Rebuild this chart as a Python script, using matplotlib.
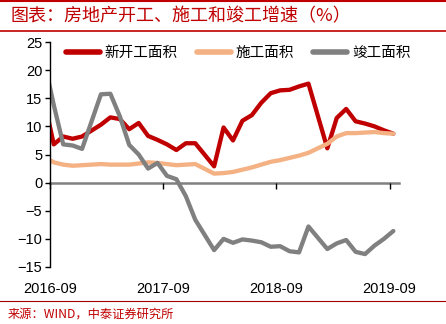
import matplotlib
matplotlib.use("Agg")
import matplotlib.pyplot as plt
from matplotlib.lines import Line2D

plt.rcParams['font.family'] = ['Liberation Sans', 'Noto Sans CJK SC', 'DejaVu Sans']

# ---- data (cumulative YoY %, January merged into February) ----
months = ['2016-08', '2016-09', '2016-10', '2016-11', '2016-12',
          '2017-02', '2017-03', '2017-04', '2017-05', '2017-06', '2017-07',
          '2017-08', '2017-09', '2017-10', '2017-11', '2017-12',
          '2018-02', '2018-03', '2018-04', '2018-05', '2018-06', '2018-07',
          '2018-08', '2018-09', '2018-10', '2018-11', '2018-12',
          '2019-02', '2019-03', '2019-04', '2019-05', '2019-06', '2019-07',
          '2019-08', '2019-09']
new_start = [14.5, 6.8, 8.2, 7.8, 8.2,
             10.3, 11.6, 11.3, 9.5, 10.6, 8.3, 7.6, 6.8, 5.8, 7.0, 7.0,
             2.9, 9.8, 7.5, 11.0, 12.0, 14.2, 15.9, 16.4, 16.5, 17.1, 17.6,
             6.1, 11.5, 13.1, 10.9, 10.5, 10.0, 9.3, 8.7]
under_constr = [4.6, 3.6, 3.2, 3.0, 3.1,
                3.3, 3.2, 3.2, 3.2, 3.4, 3.6, 3.5, 3.3, 3.1, 3.2, 3.3,
                1.6, 1.7, 1.9, 2.3, 2.7, 3.2, 3.7, 4.0, 4.4, 4.8, 5.3,
                6.9, 8.2, 8.8, 8.8, 8.9, 9.0, 8.8, 8.7]
completed = [21.5, 13.8, 6.8, 6.6, 6.0,
             15.7, 15.8, 11.8, 6.7, 5.0, 2.5, 3.5, 1.2, 0.6, -2.4, -6.6,
             -12.0, -10.0, -10.7, -10.1, -10.3, -10.6, -11.4, -11.3, -12.2, -12.4, -7.8,
             -11.8, -10.8, -10.2, -12.3, -12.7, -11.2, -10.0, -8.6]
series_names = ['新开工面积', '施工面积', '竣工面积']
tick_labels = ['2016-09', '2017-09', '2018-09', '2019-09']
title = '图表：房地产开工、施工和竣工增速（%）'
source = '来源：WIND，中泰证券研究所'

colors = ['#C00000', '#F4B183', '#808080']


def month_pos(s):
    y, m = s.split('-')
    return (int(y) - 2016) * 12 + int(m) - 9 + 0.4


x = [month_pos(m) for m in months]
tick_pos = [month_pos(t) - 0.4 for t in tick_labels]

fig = plt.figure(figsize=(4.46, 3.24), dpi=100)
ax = fig.add_axes([50 / 446, 1 - 267 / 324, 349 / 446, 225 / 324])

for vals, c, name in zip([new_start, under_constr, completed], colors, series_names):
    ax.plot(x, vals, color=c, lw=3.1, solid_capstyle='round',
            solid_joinstyle='round', label=name, clip_on=True)

ax.set_xlim(0, 37)
ax.set_ylim(-15, 25)
ax.set_yticks(range(-15, 30, 5))
ax.tick_params(axis='y', direction='out', length=3.5, width=1, color='black',
               labelsize=10.5, pad=2, labelcolor='black')

for s in ['top', 'right']:
    ax.spines[s].set_visible(False)
ax.spines['left'].set_color('black')
ax.spines['left'].set_linewidth(1.0)
ax.spines['bottom'].set_position(('data', 0))
ax.spines['bottom'].set_color('#808080')
ax.spines['bottom'].set_linewidth(1.8)
ax.spines['bottom'].set_zorder(0.5)
ax.set_xticks(tick_pos)
ax.set_xticklabels([])
ax.tick_params(axis='x', direction='out', length=4, width=1, color='black')

sec = ax.secondary_xaxis('bottom')
sec.set_xticks(tick_pos)
sec.set_xticklabels(tick_labels)
sec.tick_params(axis='x', length=0, labelsize=10.5, pad=11, labelcolor='black')
sec.spines['bottom'].set_visible(False)

leg = ax.legend(loc='center left', bbox_to_anchor=(0.03, 0.95), ncol=3,
                frameon=False, handlelength=2.3, handletextpad=0.35,
                columnspacing=1.3, borderaxespad=0,
                prop={'family': ['Noto Sans CJK SC'], 'size': 10.5})
for h in leg.get_lines():
    h.set_linewidth(4.0)

# header / footer decoration
fig.add_artist(Line2D([0, 1], [1 - 0.8 / 324, 1 - 0.8 / 324], color='#C00000', lw=1.5,
                      transform=fig.transFigure))
fig.add_artist(Line2D([0, 1], [1 - 30.5 / 324, 1 - 30.5 / 324], color='#C00000', lw=1.2,
                      transform=fig.transFigure))
fig.add_artist(Line2D([0, 1], [1 - 301 / 324, 1 - 301 / 324], color='#A00000', lw=0.8,
                      transform=fig.transFigure))
fig.text(10 / 446, 1 - 16 / 324, title, color='#C00000', fontsize=13,
         family=['Noto Sans CJK SC'], va='center', ha='left')
fig.text(8 / 446, 1 - 314 / 324, source, color='#C00000', fontsize=8.8,
         family=['Noto Sans CJK SC'], va='center', ha='left')

fig.savefig('out.png', dpi=100)
